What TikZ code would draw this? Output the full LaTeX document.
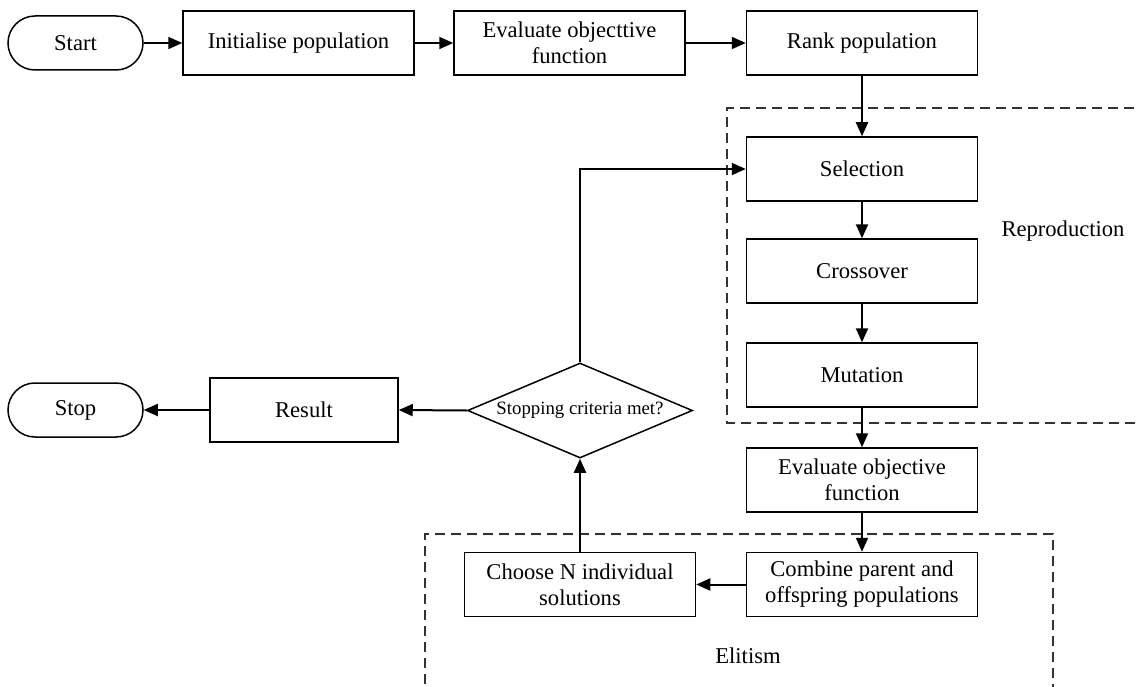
\documentclass[tikz,border=0pt]{standalone}
\usepackage{fontspec}
\setmainfont{Liberation Serif}
\usetikzlibrary{arrows.meta,shapes.geometric}

\begin{document}
\begin{tikzpicture}[x=1pt,y=-1pt,
  txt/.style={font=\fontsize{22.6}{26}\selectfont},
  box/.style={txt, draw, line width=1.5pt, minimum width=231pt, minimum height=64pt,
    inner sep=0pt, align=center},
  term/.style={txt, draw, line width=1.5pt, rounded corners=27pt, minimum width=135pt,
    minimum height=54pt, inner sep=0pt},
  decision/.style={draw, diamond, aspect=2.37, minimum width=225pt, minimum height=95pt,
    inner sep=0pt, line width=1.5pt, font=\fontsize{18.8}{22}\selectfont},
  arr/.style={-{Triangle[length=14pt,width=12pt]}, line width=2pt},
  group/.style={dash pattern=on 10pt off 6pt, line width=1.4pt, draw=black!80}
]
\clip (0,0) rectangle (1137,687);

% dashed group frames
\draw[group] (1150,108) -- (727,108) -- (727,423) -- (1150,423);
\draw[group] (425,700) -- (425,534) -- (1053,534) -- (1053,700);

% top row
\node[term] (start) at (75.5,43) {Start};
\node[box]  (init)  at (298.5,43) {Initialise population};
\node[box]  (eval1) at (569.5,43) {Evaluate objecttive\\function};
\node[box]  (rank)  at (862,43) {Rank population};

% reproduction column
\node[box] (sel)   at (862,169) {Selection};
\node[box] (cross) at (862,271) {Crossover};
\node[box] (mut)   at (862,375) {Mutation};
\node[box] (eval2) at (862,480) {Evaluate objective\\function};
\node[box] (comb)  at (862,584.5) {Combine parent and\\offspring populations};
\node[box] (choose) at (580,584.5) {Choose N individual\\solutions};

% decision and exit
\node[decision] (dec) at (580,410.5) {Stopping criteria met?};
\node[box, minimum width=188pt] (res) at (304,410) {Result};
\node[term] (stop) at (75.5,410) {Stop};

% group labels
\node[txt] (repro) at (1063,231) {Reproduction};
\node[txt] (elit)  at (748,656) {Elitism};

% connectors
\draw[arr] (start) -- (init);
\draw[arr] (init) -- (eval1);
\draw[arr] (eval1) -- (rank);
\draw[arr] (rank) -- (sel);
\draw[arr] (sel) -- (cross);
\draw[arr] (cross) -- (mut);
\draw[arr] (mut) -- (eval2);
\draw[arr] (eval2) -- (comb);
\draw[arr] (comb) -- (choose);
\draw[arr] (choose) -- (dec.south);
\draw[arr] (dec.north) |- (sel.west);
\draw[arr] (dec.west) -- (res.east);
\draw[arr] (res) -- (stop);
\end{tikzpicture}
\end{document}
